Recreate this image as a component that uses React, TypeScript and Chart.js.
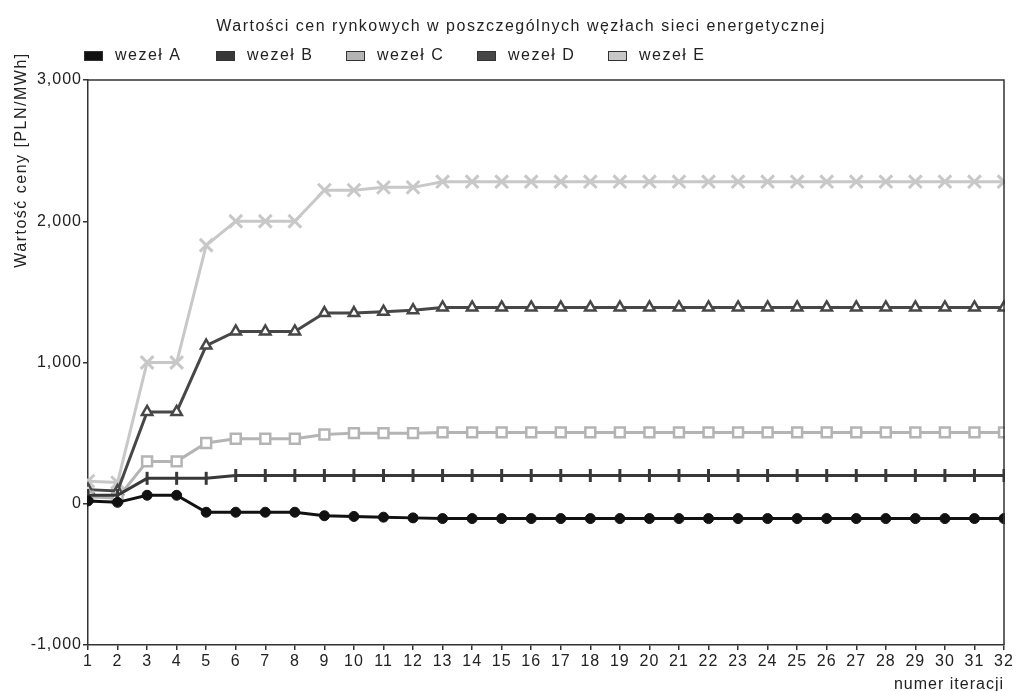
import React, { useEffect, useRef } from 'react';
import { Chart, registerables } from 'chart.js';

Chart.register(...registerables);

const FONT = '"Liberation Sans", Arial, sans-serif';

const chartTitle = 'Wartości cen rynkowych w poszczególnych węzłach sieci energetycznej';
const yAxisTitle = 'Wartość ceny [PLN/MWh]';
const xAxisTitle = 'numer iteracji';

const iterations = [
  '1', '2', '3', '4', '5', '6', '7', '8', '9', '10', '11', '12', '13', '14', '15', '16',
  '17', '18', '19', '20', '21', '22', '23', '24', '25', '26', '27', '28', '29', '30', '31', '32',
];

const seriesNames = ['wezeł A', 'wezeł B', 'wezeł C', 'wezeł D', 'wezeł E'];

const nodeA = [20, 10, 60, 60, -60, -60, -60, -60, -85, -90, -95, -100, -105, -105, -105, -105,
  -105, -105, -105, -105, -105, -105, -105, -105, -105, -105, -105, -105, -105, -105, -105, -105];
const nodeB = [60, 60, 180, 180, 180, 200, 200, 200, 200, 200, 200, 200, 200, 200, 200, 200,
  200, 200, 200, 200, 200, 200, 200, 200, 200, 200, 200, 200, 200, 200, 200, 200];
const nodeC = [50, 40, 300, 300, 430, 460, 460, 460, 490, 500, 500, 500, 505, 505, 505, 505,
  505, 505, 505, 505, 505, 505, 505, 505, 505, 505, 505, 505, 505, 505, 505, 505];
const nodeD = [100, 90, 650, 650, 1120, 1220, 1220, 1220, 1350, 1350, 1360, 1370, 1390, 1390, 1390, 1390,
  1390, 1390, 1390, 1390, 1390, 1390, 1390, 1390, 1390, 1390, 1390, 1390, 1390, 1390, 1390, 1390];
const nodeE = [160, 150, 1000, 1000, 1830, 2000, 2000, 2000, 2220, 2220, 2240, 2240, 2280, 2280, 2280, 2280,
  2280, 2280, 2280, 2280, 2280, 2280, 2280, 2280, 2280, 2280, 2280, 2280, 2280, 2280, 2280, 2280];

const seriesValues = [nodeA, nodeB, nodeC, nodeD, nodeE];
const seriesColors = ['#111111', '#383838', '#b4b4b4', '#474747', '#c8c8c8'];

const yTicks = { min: -1000, max: 3000, step: 1000 };

const decorPlugin = {
  id: 'decor',
  beforeDraw(chart: any) {
    chart.ctx.letterSpacing = '1px';
  },
  afterDraw(chart: any) {
    const { ctx, chartArea } = chart;
    ctx.save();
    ctx.strokeStyle = '#333';
    ctx.lineWidth = 1.5;
    ctx.beginPath();
    ctx.moveTo(chartArea.left, chartArea.top);
    ctx.lineTo(chartArea.right, chartArea.top);
    ctx.lineTo(chartArea.right, chartArea.bottom);
    ctx.stroke();

    ctx.letterSpacing = '1.5px';
    ctx.fillStyle = '#222';
    ctx.font = `16px ${FONT}`;
    ctx.textBaseline = 'middle';

    ctx.textAlign = 'center';
    ctx.fillText(chartTitle, 521, 27);

    ctx.textAlign = 'left';
    const starts = [84, 216, 346, 477, 608];
    seriesNames.forEach((name, i) => {
      const bx = starts[i];
      ctx.fillStyle = seriesColors[i];
      ctx.fillRect(bx, 51, 19, 10);
      ctx.strokeStyle = '#333';
      ctx.lineWidth = 1;
      ctx.strokeRect(bx + 0.5, 51.5, 18, 9);
      ctx.fillStyle = '#222';
      ctx.fillText(name, bx + 31, 56);
    });

    ctx.save();
    ctx.translate(22, 160);
    ctx.rotate(-Math.PI / 2);
    ctx.textAlign = 'center';
    ctx.fillText(yAxisTitle, 0, 0);
    ctx.restore();

    ctx.restore();
  },
};

export default function App() {
  const canvasRef = useRef<HTMLCanvasElement | null>(null);

  useEffect(() => {
    const canvas = canvasRef.current;
    if (!canvas) return;
    const styles = [
      { style: 'circle', radius: 5, rotation: 0, bg: seriesColors[0], bw: 1 },
      { style: 'line', radius: 6.5, rotation: 90, bg: seriesColors[1], bw: 3 },
      { style: 'rect', radius: 7, rotation: 0, bg: '#ffffff', bw: 2.5 },
      { style: 'triangle', radius: 6, rotation: 0, bg: '#ffffff', bw: 2.5 },
      { style: 'crossRot', radius: 9, rotation: 0, bg: seriesColors[4], bw: 3 },
    ];
    const datasets = seriesNames.map((name, i) => ({
      label: name,
      data: seriesValues[i],
      borderColor: seriesColors[i],
      backgroundColor: seriesColors[i],
      borderWidth: 3,
      pointStyle: styles[i].style as any,
      pointRadius: styles[i].radius,
      pointHoverRadius: styles[i].radius,
      pointRotation: styles[i].rotation,
      pointBackgroundColor: styles[i].bg,
      pointBorderColor: seriesColors[i],
      pointBorderWidth: styles[i].bw,
      tension: 0,
      fill: false,
      clip: 1,
    }));

    const chart = new Chart(canvas, {
      type: 'line',
      data: { labels: iterations, datasets },
      options: {
        animation: false,
        responsive: false,
        maintainAspectRatio: false,
        devicePixelRatio: 1,
        layout: { padding: { top: 80, right: 8, left: 0, bottom: 0 } },
        plugins: {
          legend: { display: false },
          title: { display: false },
          tooltip: { enabled: false },
        },
        scales: {
          x: {
            type: 'category',
            offset: false,
            ticks: {
              autoSkip: false,
              maxRotation: 0,
              minRotation: 0,
              color: '#222',
              font: { size: 16, family: FONT },
              padding: 2,
            },
            grid: { drawOnChartArea: false, drawTicks: true, tickLength: 5, color: '#333', lineWidth: 1.5 },
            border: { display: true, color: '#333', width: 1.5 },
            title: {
              display: true,
              text: xAxisTitle,
              align: 'end',
              color: '#222',
              font: { size: 16, family: FONT, lineHeight: 1 },
              padding: { top: 0, bottom: -2 },
            },
            afterFit: (s: any) => { s.height = 46; },
          },
          y: {
            min: yTicks.min,
            max: yTicks.max,
            ticks: {
              stepSize: yTicks.step,
              color: '#222',
              font: { size: 16, family: FONT },
              padding: 1,
              callback: (v: any) => Number(v).toLocaleString('en-US'),
            },
            grid: { drawOnChartArea: false, drawTicks: true, tickLength: 5, color: '#333', lineWidth: 1.5 },
            border: { display: true, color: '#333', width: 1.5 },
            afterFit: (s: any) => { s.width = 88; },
          },
        },
      },
      plugins: [decorPlugin],
    });
    return () => chart.destroy();
  }, []);

  return (
    <div style={{ position: 'fixed', left: 0, top: 0, width: 1016, height: 691, background: '#fff' }}>
      <canvas ref={canvasRef} width={1016} height={691} style={{ display: 'block', width: 1016, height: 691 }} />
    </div>
  );
}
